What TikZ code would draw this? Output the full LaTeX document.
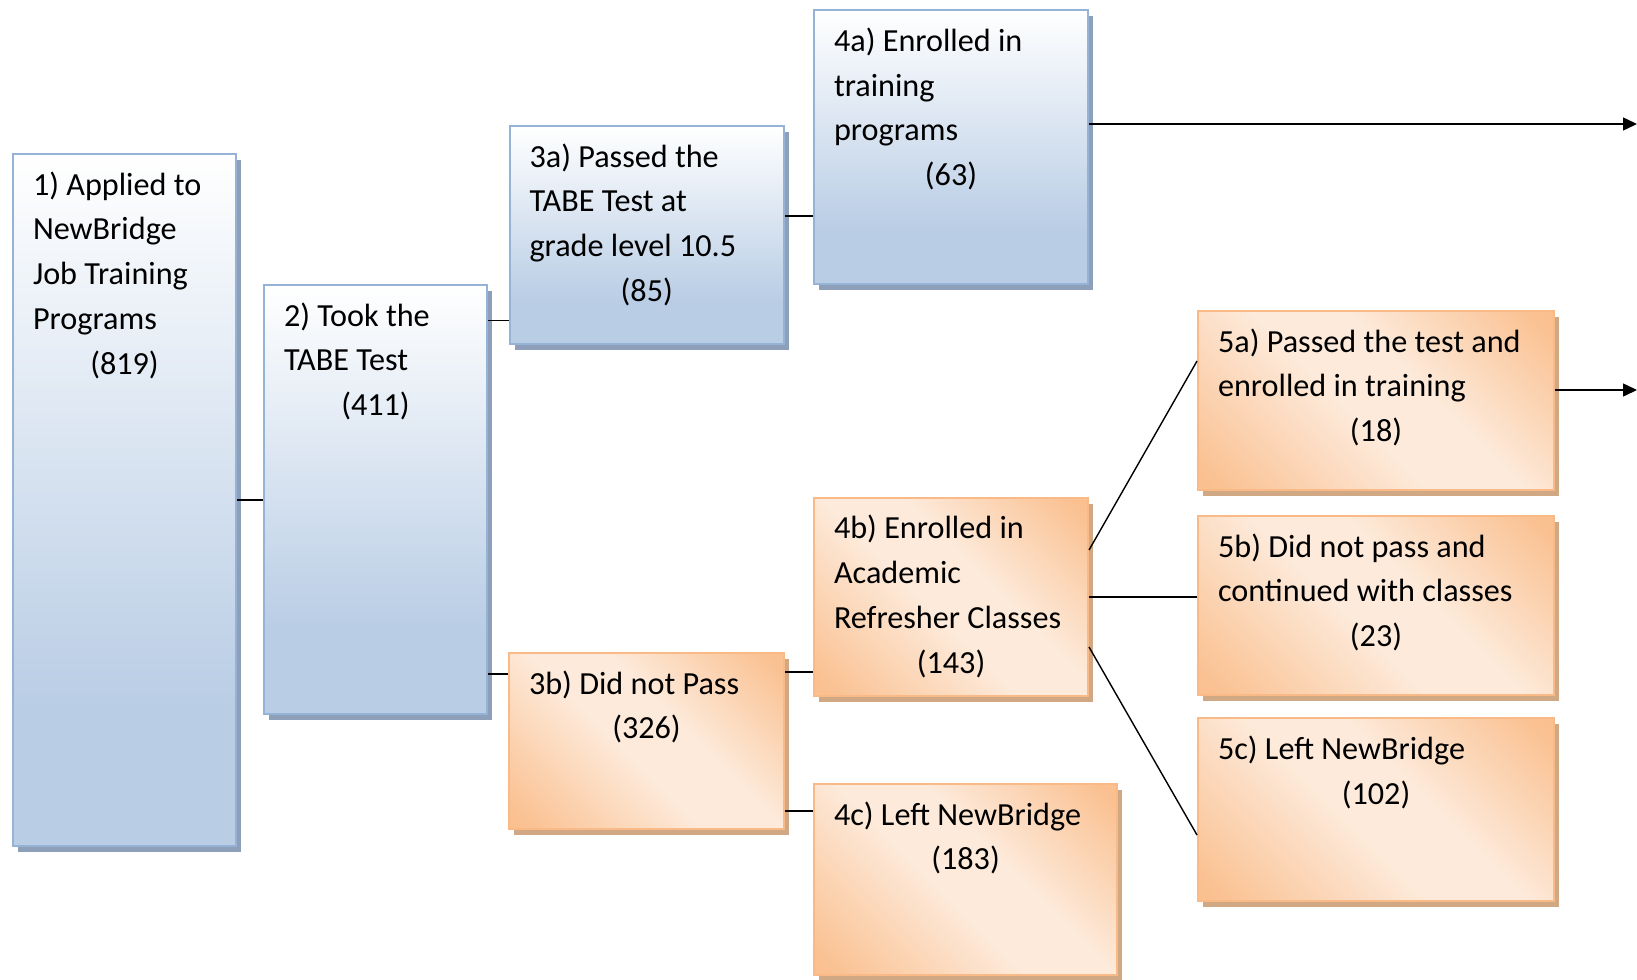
\documentclass[tikz,border=0pt]{standalone}
\usepackage{fontspec}
\setmainfont{Carlito}
\usetikzlibrary{shadows,arrows.meta}
\definecolor{bfill}{RGB}{185,205,229}
\definecolor{bline}{RGB}{149,179,215}
\definecolor{bshade}{RGB}{142,160,185}
\definecolor{ofill}{RGB}{250,192,144}
\definecolor{olight}{RGB}{253,234,218}
\definecolor{oline}{RGB}{249,186,136}
\definecolor{oshade}{RGB}{208,168,132}
\pgfdeclareverticalshading{bluegrad}{100bp}{color(0bp)=(bfill); color(35bp)=(bfill); color(75bp)=(white); color(100bp)=(white)}
\pgfdeclarehorizontalshading{orangegrad}{100bp}{color(0bp)=(ofill); color(17bp)=(ofill); color(45bp)=(olight); color(58bp)=(olight); color(83bp)=(ofill); color(100bp)=(ofill)}
\newcommand{\boxtext}[3]{\parbox[t][#2][t]{#1}{\raggedright\rule{0pt}{20.5pt}#3}}
\newcommand{\cnt}[1]{\par\centering #1\par}
\begin{document}
\begin{tikzpicture}[x=1pt,y=-1pt,>={Triangle[length=7pt,width=6.5pt]},font=\fontsize{16.1}{22.4}\selectfont,
    box/.style={anchor=north west,inner xsep=10pt,inner ysep=0pt,line width=1pt},
    bluebox/.style={box,draw=bline,shading=bluegrad,drop shadow={shadow xshift=2.5pt,shadow yshift=-3pt,fill=bshade,opacity=1}},
    orangebox/.style={box,draw=oline,shading=orangegrad,shading angle=45,drop shadow={shadow xshift=2.5pt,shadow yshift=-3pt,fill=oshade,opacity=1}},
    link/.style={line width=0.7pt}]
    \useasboundingbox (0,0) rectangle (818.5,489.5);
    % blue boxes
    \node[bluebox] (b1) at (6,76.5) {\boxtext{91.5pt}{346pt}{1) Applied to\\NewBridge\\Job Training\\Programs\cnt{(819)}}};
    \node[bluebox] (b2) at (131.5,142) {\boxtext{91.5pt}{214.5pt}{2) Took the\\TABE Test\cnt{(411)}}};
    \node[bluebox] (b3a) at (254.25,62.5) {\boxtext{117.25pt}{109pt}{3a) Passed the\\TABE Test at\\grade level 10.5\cnt{(85)}}};
    \node[bluebox] (b4a) at (406.5,4.7) {\boxtext{117pt}{137pt}{4a) Enrolled in\\training\\programs\cnt{(63)}}};
    % orange boxes
    \node[orangebox] (b3b) at (254,326) {\boxtext{117.5pt}{88pt}{3b) Did not Pass\cnt{(326)}}};
    \node[orangebox] (b4b) at (406.5,248.3) {\boxtext{117pt}{99.2pt}{4b) Enrolled in\\Academic\\Refresher Classes\cnt{(143)}}};
    \node[orangebox] (b4c) at (406.5,391.5) {\boxtext{131.5pt}{95.5pt}{4c) Left NewBridge\cnt{(183)}}};
    \node[orangebox] (b5a) at (598.5,155) {\boxtext{158pt}{89.7pt}{5a) Passed the test and\\enrolled in training\cnt{(18)}}};
    \node[orangebox] (b5b) at (598.5,257.5) {\boxtext{158pt}{89.7pt}{5b) Did not pass and\\continued with classes\cnt{(23)}}};
    \node[orangebox] (b5c) at (598.5,358.7) {\boxtext{158pt}{91.3pt}{5c) Left NewBridge\cnt{(102)}}};
    % connectors
    \draw[link] (b1.east) -- (b1.east -| b2.west);
    \draw[link] ([yshift=-18.3pt]b2.north east) coordinate (p) -- (p -| b3a.west);
    \draw[link] ([yshift=20.5pt]b2.south east) coordinate (p) -- (p -| b3b.west);
    \draw[link] ([yshift=-45.5pt]b3a.north east) coordinate (p) -- (p -| b4a.west);
    \draw[link] ([yshift=-10pt]b3b.north east) coordinate (p) -- (p -| b4b.west);
    \draw[link] ([yshift=9.5pt]b3b.south east) coordinate (p) -- (p -| b4c.west);
    \draw[link] ([yshift=-26.7pt]b4b.north east) -- ([yshift=-25.5pt]b5a.north west);
    \draw[link] (b4b.east) -- (b4b.east -| b5b.west);
    \draw[link] ([yshift=25pt]b4b.south east) -- ([yshift=-58.8pt]b5c.north west);
    \coordinate (out4a) at (818.5,62);
    \coordinate (out5a) at (818.5,195);
    \draw[link,->] (b4a.east |- out4a) -- (out4a);
    \draw[link,->] (b5a.east |- out5a) -- (out5a);
\end{tikzpicture}
\end{document}
